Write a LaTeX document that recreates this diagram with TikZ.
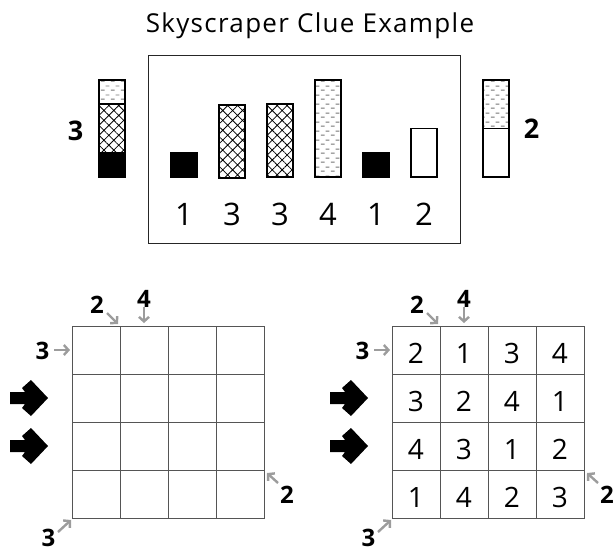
\documentclass[tikz,border=0pt]{standalone}
\usepackage{fontspec}
\setmainfont{Open Sans}
\newfontfamily\titlefont{Open Sans}[LetterSpace=5]
\usetikzlibrary{arrows.meta,patterns.meta}
\definecolor{gridline}{HTML}{555555}
\definecolor{cluegray}{HTML}{9C9C9C}
\tikzdeclarepattern{
  name=dashrows,
  bounding box={(0pt,0pt) and (10pt,9pt)},
  tile size={(10pt,9pt)},
  code={
    \draw[line width=1pt] (1pt,2pt) -- (5pt,2pt) (6pt,6.5pt) -- (10pt,6.5pt);
  }
}
\tikzset{
  tower/.style={draw, line width=1.8pt, inner sep=0pt, anchor=south,
    minimum width=26pt, minimum height=#1*24.25pt},
  blackfill/.style={fill=black},
  xhatch/.style={pattern={Hatch[angle=45,distance=7pt,line width=0.8pt]}},
  dashfill/.style={pattern=dashrows, pattern color=black!55},
  digit/.style={anchor=base, inner sep=0pt, font=\fontsize{31}{33}\selectfont},
  cell/.style={draw=gridline, line width=0.8pt, minimum size=48pt, inner sep=0pt},
  celldigit/.style={anchor=base, inner sep=0pt, font=\fontsize{28}{30}\selectfont},
  clue/.style={anchor=base, inner sep=0pt, font=\bfseries\fontsize{24}{26}\selectfont},
  cluearrow/.style={draw=cluegray, line width=2.4pt,
    -{Straight Barb[length=4.5pt,width=10pt]}},
  bigarrow/.pic={
    \fill[black] (-19,-6) -- (-4,-6) -- (-7,-10) -- (2,-18) -- (19,0)
      -- (2,18) -- (-7,10) -- (-4,6) -- (-19,6) -- cycle;
  },
}

\begin{document}
\begin{tikzpicture}[x=1pt,y=-1pt]
  \useasboundingbox (0,0) rectangle (614,551);
  \node[anchor=base, inner sep=0pt, font=\titlefont\fontsize{26}{28}\selectfont] (title) at (310,33) {Skyscraper Clue Example};
  \node[draw=black!85, line width=1pt, minimum width=312pt, minimum height=187pt] (street) at (304,149.5) {};
  \node[tower=1, blackfill] (b1) at (184,178) {};
  \node[tower=3, xhatch]    (b2) at (232,178) {};
  \node[tower=3, xhatch]    (b3) at (280,178) {};
  \node[tower=4, dashfill]  (b4) at (328,178) {};
  \node[tower=1, blackfill] (b5) at (376,178) {};
  \node[tower=2]            (b6) at (424,178) {};
  \foreach \v/\x [count=\i] in {1/184,3/232,3/280,4/328,1/376,2/424}
    \node[digit] (h\i) at (\x,225) {\v};
  % seen from the left
  \node[tower=1, blackfill] (w1) at (112,178) {};
  \node[tower=2, xhatch]    (w2) at (112,153.75) {};
  \node[tower=1, dashfill]  (w3) at (112,105.25) {};
  \node[clue, font=\bfseries\fontsize{27}{29}\selectfont] (wclue) at (75.5,140) {3};
  % seen from the right
  \node[tower=2]            (e1) at (496,178) {};
  \node[tower=2, dashfill]  (e2) at (496,129.5) {};
  \node[clue, font=\bfseries\fontsize{27}{29}\selectfont] (eclue) at (531.5,139) {2};
  % empty and solved grids
  \foreach \r in {1,...,4}
    \foreach \c in {1,...,4}
      \node[cell] (L\r\c) at (48+48*\c, 302+48*\r) {};
  \foreach \r/\row in {1/{2,1,3,4},2/{3,2,4,1},3/{4,3,1,2},4/{1,4,2,3}}
    \foreach \v [count=\c] in \row {
      \node[cell] (R\r\c) at (368+48*\c, 302+48*\r) {};
      \node[celldigit] (v\r\c) at (368+48*\c, 315+48*\r) {\v};
    }
  \foreach \g/\ox in {L/0,R/320} {
    \node[clue] (\g w)  at (\ox+42.5,359) {3};
    \node[clue] (\g n1) at (\ox+97,313) {2};
    \node[clue] (\g n2) at (\ox+144,307) {4};
    \node[clue] (\g e)  at (\ox+287,503) {2};
    \node[clue] (\g s)  at (\ox+48.5,546) {3};
    \coordinate (\g wa) at (\ox+54,350);    \coordinate (\g wb) at (\ox+70,350);
    \coordinate (\g n1a) at (\ox+107,313);  \coordinate (\g n1b) at (\ox+118,324);
    \coordinate (\g n2a) at (\ox+144,307);  \coordinate (\g n2b) at (\ox+144,323);
    \coordinate (\g ea) at (\ox+278,483);   \coordinate (\g eb) at (\ox+267,473);
    \coordinate (\g sa) at (\ox+58,532);    \coordinate (\g sb) at (\ox+71,520);
    \draw[cluearrow] (\g wa) -- (\g wb);
    \draw[cluearrow] (\g n1a) -- (\g n1b);
    \draw[cluearrow] (\g n2a) -- (\g n2b);
    \draw[cluearrow] (\g ea) -- (\g eb);
    \draw[cluearrow] (\g sa) -- (\g sb);
    \pic at (\ox+29,398) {bigarrow};
    \pic at (\ox+29,446) {bigarrow};
  }
\end{tikzpicture}
\end{document}
